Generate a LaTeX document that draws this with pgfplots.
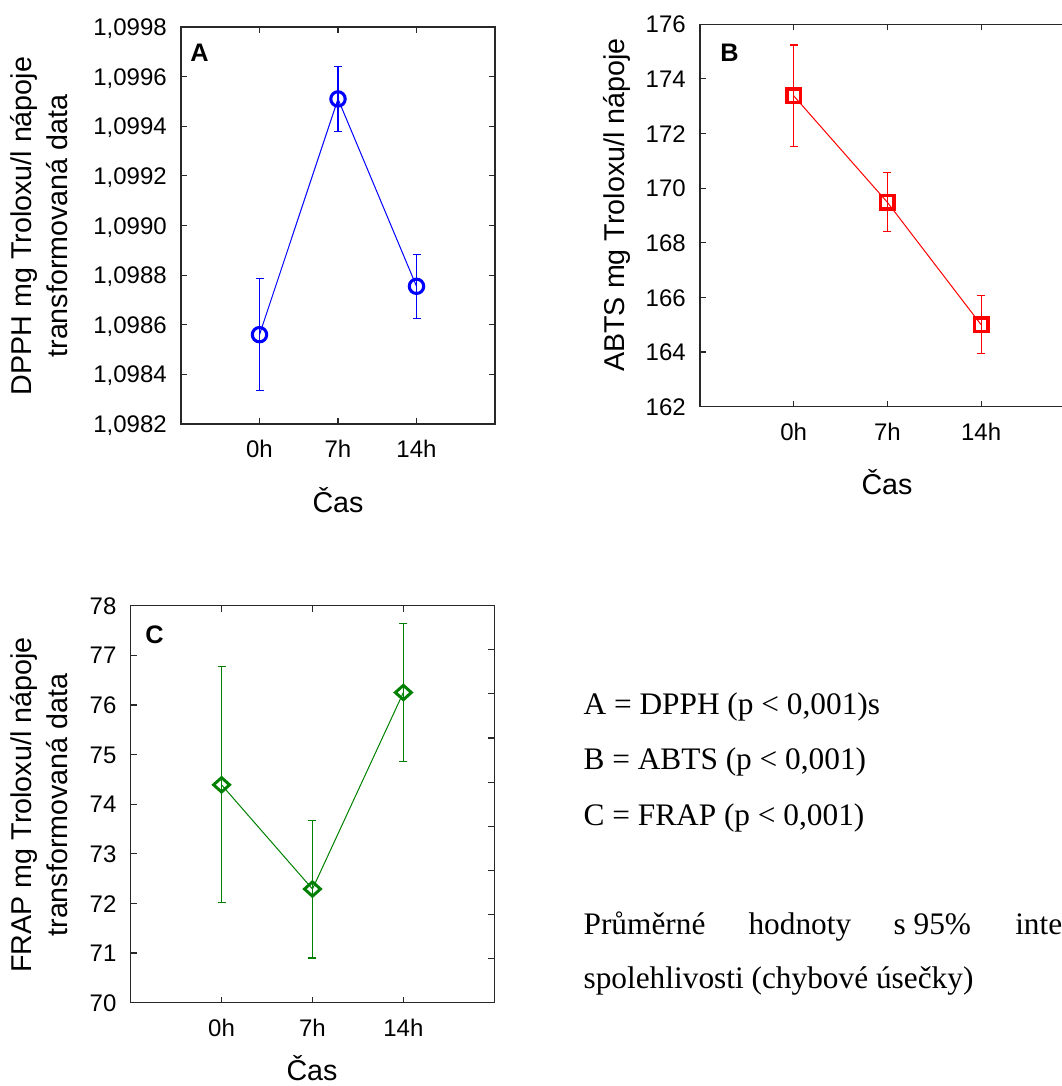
\documentclass[border=0pt]{standalone}
\usepackage{pgfplots}
\pgfplotsset{compat=1.18}
\usepackage{fontspec}
\setmainfont{Liberation Sans}
\newfontfamily\notefont{Liberation Serif}

\definecolor{sblue}{RGB}{0,0,255}
\definecolor{sred}{RGB}{255,0,0}
\definecolor{sgreen}{RGB}{0,128,0}
\definecolor{frame}{RGB}{40,40,40}

\pgfplotsset{
  panel/.style={
    scale only axis, anchor=south west,
    xmin=-1, xmax=3, xtick={0,1,2}, xticklabels={0h,7h,14h},
    tick align=inside, major tick length=4.5pt,
    axis line style={line width=0.9pt, frame},
    tick style={line width=0.9pt, frame},
    tick label style={font=\fontsize{18}{20}\selectfont, inner sep=0pt},
    xticklabel style={anchor=base, yshift=-25.5pt},
    yticklabel style={anchor=base east, xshift=-10.5pt, yshift=-6.45pt},
    /pgf/number format/assume math mode=true,
    clip=false,
  },
  series/.style={
    line width=0.75pt,
    error bars/y dir=both, error bars/y explicit,
    error bars/error bar style={line width=0.8pt, solid},
    error bars/error mark options={rotate=90, mark size=3pt, line width=0.8pt},
  },
}
\tikzset{lbl/.style={font=\fontsize{21.5}{27.2}\selectfont}}

\begin{document}
\begin{tikzpicture}
\path[use as bounding box] (0,0) rectangle (796.5pt,814.5pt);
\clip (0,0) rectangle (796.5pt,814.5pt);

% A: DPPH
\begin{axis}[panel, at={(135.75pt,496.5pt)}, width=235.5pt, height=297.75pt,
  ymin=1.0982, ymax=1.0998,
  ytick={1.0982,1.0984,1.0986,1.0988,1.0990,1.0992,1.0994,1.0996,1.0998},
  yticklabels={1{,}0982,1{,}0984,1{,}0986,1{,}0988,1{,}0990,1{,}0992,1{,}0994,1{,}0996,1{,}0998}]
\addplot[sblue, series, mark=o, mark size=5.4pt, mark options={solid, line width=2.3pt}]
  coordinates {(0,1.09856) +- (0,0.000226) (1,1.09951) +- (0,0.00013) (2,1.098755) +- (0,0.00013)};
\end{axis}

% B: ABTS
\begin{axis}[panel, at={(525pt,509.5pt)}, width=281.1pt, height=286.8pt,
  ymin=162, ymax=176, ytick={162,164,...,176}]
\addplot[sred, series, mark=square, mark size=5pt, mark options={solid, line width=2.6pt}]
  coordinates {(0,173.38) +- (0,1.86) (1,169.48) +- (0,1.08) (2,165.0) +- (0,1.07)};
\end{axis}

% C: FRAP
\begin{axis}[panel, at={(98pt,62.5pt)}, width=272.7pt, height=297.75pt,
  ymin=70, ymax=78, ytick={70,...,78}, ytick pos=left]
\addplot[sgreen, series, mark=diamond, mark size=5.4pt, mark options={solid, line width=2.2pt, xscale=1.48}]
  coordinates {(0,74.39) +- (0,2.38) (1,72.29) +- (0,1.39) (2,76.25) +- (0,1.39)};
\end{axis}
% right-hand scale of panel C
\begin{axis}[scale only axis, anchor=south west, at={(98pt,62.5pt)}, width=272.7pt, height=297.75pt,
  xmin=-1, xmax=3, ymin=70, ymax=78, xtick=\empty, ytick pos=right,
  ytick={70.8889,71.7778,72.6667,73.5556,74.4444,75.3333,76.2222,77.1111},
  yticklabels={}, tick align=inside, major tick length=4.5pt,
  axis line style={line width=0.9pt, frame}, tick style={line width=0.9pt, frame}]
\end{axis}

% axis titles
\node[lbl, rotate=90, align=center] at (29.5pt,645pt) {DPPH mg Troloxu/l nápoje\\transformovaná data};
\node[lbl, rotate=90] at (463pt,660.75pt) {ABTS mg Troloxu/l nápoje};
\node[lbl, rotate=90, align=center] at (29.5pt,210.75pt) {FRAP mg Troloxu/l nápoje\\transformovaná data};
\node[lbl, anchor=base, inner sep=0pt] at (253.5pt,429.75pt) {Čas};
\node[lbl, anchor=base, inner sep=0pt] at (665.25pt,443.25pt) {Čas};
\node[lbl, anchor=base, inner sep=0pt] at (234pt,4pt) {Čas};

% panel letters
\node[anchor=base west, inner sep=0pt, font=\fontsize{19}{20}\selectfont\bfseries] at (142.5pt,768.2pt) {A};
\node[anchor=base west, inner sep=0pt, font=\fontsize{19}{20}\selectfont\bfseries] at (540pt,768.2pt) {B};
\node[anchor=base west, inner sep=0pt, font=\fontsize{19}{20}\selectfont\bfseries] at (108.75pt,331.5pt) {C};

% notes
\begin{scope}[every node/.style={anchor=base west, inner sep=0pt, font=\notefont\fontsize{23.5}{28}\selectfont}]
\node at (437.5pt,278.25pt) {A = DPPH (p < 0,001)s};
\node at (437.5pt,237pt) {B = ABTS (p < 0,001)};
\node at (437.5pt,195pt) {C = FRAP (p < 0,001)};
\node at (437.5pt,113.25pt) {Průměrné};
\node at (561.2pt,113.25pt) {hodnoty};
\node at (670pt,113.25pt) {s 95\%};
\node at (761.25pt,113.25pt) {inte};
\node at (437.5pt,73.3pt) {spolehlivosti (chybové úsečky)};
\end{scope}
\end{tikzpicture}
\end{document}
